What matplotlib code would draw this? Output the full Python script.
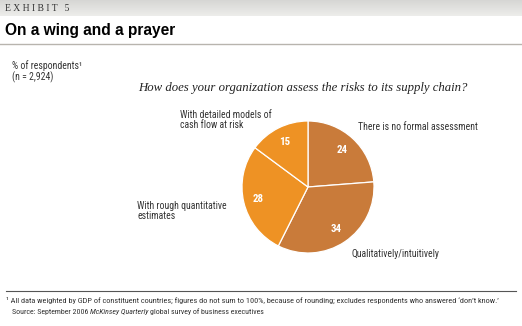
import numpy as np
import matplotlib
matplotlib.use("Agg")
import matplotlib.pyplot as plt

# data
categories = ["There is no formal assessment", "Qualitatively/intuitively",
              "With rough quantitative\nestimates", "With detailed models of\ncash flow at risk"]
values = [24, 34, 28, 15]
colors = ["#C97B3A", "#C97B3A", "#EE9224", "#EE9224"]

W, H = 522, 326
NARROW = ["Roboto Condensed", "Archivo Narrow", "DejaVu Sans"]
SERIF = ["Liberation Serif", "DejaVu Serif"]
SANS = ["Liberation Sans", "DejaVu Sans"]
TXT = "#333333"

fig = plt.figure(figsize=(W / 100, H / 100), dpi=100)
fig.patch.set_facecolor("white")

# background axes in pixel coords (y down)
bg = fig.add_axes([0, 0, 1, 1])
bg.set_xlim(0, W)
bg.set_ylim(H, 0)
bg.axis("off")

# gray header band with light gradient
grad = np.linspace(0.84, 0.93, 50).reshape(-1, 1)
bg.imshow(np.dstack([grad, grad, grad * 0.99]), extent=(0, W, 16, 0), aspect="auto", zorder=0)
bg.text(5, 8.5, "E X H I B I T   5", family=SERIF, fontsize=6.9, color=TXT, va="center", ha="left")
bg.text(5, 30, "On a wing and a prayer", family=SANS, fontsize=11.2, fontweight="bold",
        color="black", va="center", ha="left")
bg.plot([0, W], [44, 44], color="#b8b4ae", lw=1)

bg.text(12, 66, "% of respondents\u00b9", family=NARROW, fontsize=7, color=TXT, va="center")
bg.text(12, 77, "(n = 2,924)", family=NARROW, fontsize=7, color=TXT, va="center")

bg.text(303, 88, "How does your organization assess the risks to its supply chain?",
        family=SERIF, style="italic", fontsize=9.2, color="#222222", ha="center", va="center")

# category labels
lab = dict(family=NARROW, fontsize=7, color=TXT, ha="left", va="center", linespacing=1.1)
bg.text(358, 127, categories[0], **lab)
bg.text(352, 254, categories[1], **lab)
bg.text(137, 211, categories[2], **lab)
bg.text(180, 120, categories[3], **lab)

# footer
bg.plot([6, 516], [291, 291], color="#555555", lw=0.8)
bg.text(6, 300, "\u00b9 All data weighted by GDP of constituent countries; figures do not sum to 100%, because of rounding; "
        "excludes respondents who answered \u2018don\u2019t know.\u2019",
        family=NARROW, fontsize=5.95, color=TXT, va="center")
fs = 5.65
src = bg.text(12, 312, "Source: September 2006 ", family=NARROW, fontsize=fs, color=TXT, va="center")
fig.canvas.draw()
inv = bg.transData.inverted()
x1 = inv.transform((src.get_window_extent().x1, 0))[0]
t2 = bg.text(x1, 312, "McKinsey Quarterly", family=NARROW, fontsize=fs, style="italic",
             color=TXT, va="center")
fig.canvas.draw()
x2 = inv.transform((t2.get_window_extent().x1, 0))[0]
bg.text(x2 + 1, 312, "global survey of business executives", family=NARROW, fontsize=fs,
        color=TXT, va="center")

# pie
cx, cy, r = 308, 187, 66
ax = fig.add_axes([(cx - r) / W, (H - cy - r) / H, 2 * r / W, 2 * r / H])
wedges, texts = ax.pie(values, colors=colors, startangle=90, counterclock=False,
                       wedgeprops=dict(edgecolor="white", linewidth=0.9))
for w, v in zip(wedges, values):
    ang = np.deg2rad((w.theta1 + w.theta2) / 2)
    ax.text(0.77 * np.cos(ang), 0.77 * np.sin(ang), str(v), family=NARROW, fontweight="bold",
            fontsize=7.8, color="white", ha="center", va="center")
ax.set_xlim(-1, 1)
ax.set_ylim(-1, 1)
ax.axis("off")

fig.savefig("out.png", dpi=100)
